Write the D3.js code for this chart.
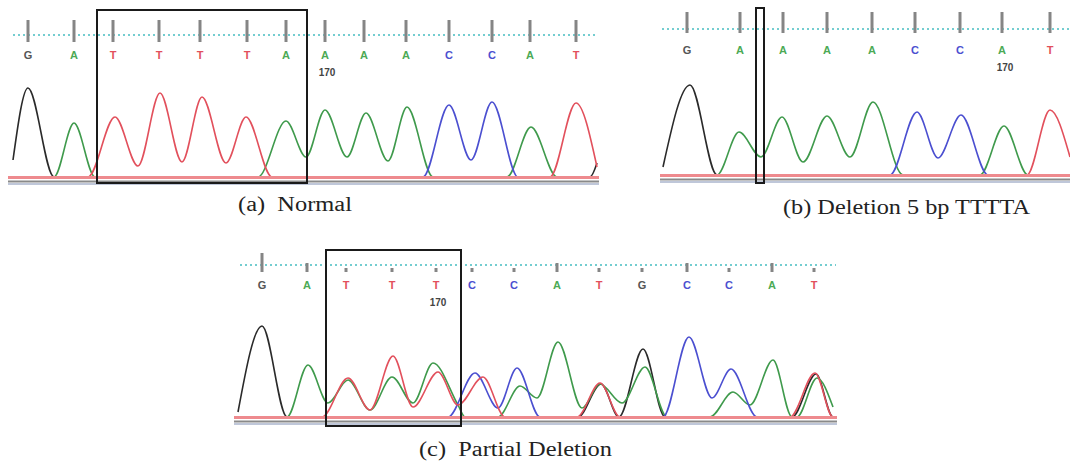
<!DOCTYPE html>
<html lang="en">
<head>
<meta charset="UTF-8">
<title>Sequencing chromatograms</title>
<script src="https://d3js.org/d3.v7.min.js"></script>
<style>
    body { margin: 0; background: #fff; }
    svg { display: block; }
    .base-letter { font-family: 'Liberation Sans', Arial, sans-serif; font-size: 11px; font-weight: bold; text-anchor: middle; }
    .pos-label { font-family: 'Liberation Sans', Arial, sans-serif; font-size: 10px; font-weight: bold; fill: #444; text-anchor: middle; }
    .caption { font-family: 'Liberation Serif', serif; font-size: 20px; fill: #222; }
    .trace { fill: none; stroke-width: 1.6px; stroke-linejoin: round; }
</style>
</head>
<body>
<svg width="1070" height="463"></svg>
<script>
    // ---- (a) Normal : scan position, signal intensity (0-100) ----
    const normalBases = ["G","A","T","T","T","T","A","A","A","A","C","C","A","T"];
    const normalBasePos = [18, 64, 103, 149, 190, 237, 276, 315, 354, 396, 439, 482, 520, 566];
    const normalQual = [22, 22, 22, 22, 22, 22, 22, 22, 22, 22, 22, 22, 22, 22];
    const normalG = [[3,17],[18,89],[44,0],[580,0],[587,14]];
    const normalA = [[0,0],[44,0],[64,54],[85,0],[248,0],[276,56],[296,20],[315,67],[337,20],[356,64],[378,16],[397,70],[423,0],[497,0],[521,50],[547,0],[587,0]];
    const normalC = [[0,0],[413,0],[439,72],[461,17],[482,75],[508,0],[587,0]];
    const normalT = [[0,0],[78,0],[105,60],[128,11],[150,84],[172,15],[192,80],[216,14],[236,60],[262,0],[540,0],[566,74],[587,10]];
    const normalBox = [87, 297];
    const normalMark = 7;

    // ---- (b) Deletion 5 bp TTTTA ----
    const delBases = ["G","A","A","A","A","C","C","A","T"];
    const delBasePos = [25, 78, 121, 165, 210, 253, 298, 340, 388];
    const delQual = [21, 21, 21, 21, 21, 21, 21, 21, 21];
    const delG = [[1,8],[28,90],[55,0],[408,0]];
    const delA = [[0,0],[55,0],[77,43],[99,18],[120,58],[141,13],[165,59],[188,18],[211,73],[241,0],[318,0],[342,49],[366,0],[408,0]];
    const delC = [[0,0],[228,0],[255,63],[276,17],[299,60],[326,0],[408,0]];
    const delT = [[0,0],[365,0],[388,65],[408,18]];
    const delBox = [94, 102];
    const delMark = 7;

    // ---- (c) Partial Deletion ----
    const partBases = ["G","A","T","T","T","C","C","A","T","G","C","C","A","T"];
    const partBasePos = [26, 71, 110, 156, 200, 236, 278, 321, 363, 406, 451, 493, 536, 578];
    const partQual = [19, 9, 4, 4, 4, 4, 4, 9, 4, 4, 9, 4, 9, 4];
    const partG = [[2,5],[26,91],[51,0],[342,0],[365,33],[383,0],[407,68],[429,0],[556,0],[580,43],[597,0],[600,0]];
    const partA = [[0,0],[51,0],[72,52],[92,14],[112,37],[134,7],[156,40],[177,14],[197,54],[222,12],[229,0],[262,0],[284,31],[301,19],[322,75],[346,9],[364,33],[386,14],[409,50],[431,0],[474,0],[497,25],[514,12],[537,57],[556,0],[561,0],[581,39],[597,10]];
    const partC = [[0,0],[212,0],[239,44],[262,9],[281,49],[304,0],[427,0],[453,80],[476,19],[495,48],[521,0],[600,0]];
    const partT = [[0,0],[86,0],[112,39],[134,7],[157,61],[177,10],[202,45],[222,12],[247,40],[269,0],[341,0],[364,34],[384,0],[554,0],[579,44],[597,0],[600,0]];
    const partBox = [90, 225];
    const partMark = 4;

    const baseColor = { A: "#3f9a4c", C: "#4b4fd0", G: "#2a2a2a", T: "#e2505c" };
    const letterColor = { A: "#4caa55", C: "#4b4fd0", G: "#555", T: "#e2505c" };

    const svg = d3.select("svg");

    function drawPanel(p) {
        const x = d3.scaleLinear().domain([0, p.span]).range([p.left, p.right]);
        const y = d3.scaleLinear().domain([0, 100]).range([p.zero, p.zero - 100]);
        const g = svg.append("g");

        // dotted guide line
        g.append("line").attr("x1", x(p.dotFrom)).attr("x2", x(p.span))
            .attr("y1", p.dotY).attr("y2", p.dotY)
            .attr("stroke", "#74cdd0").attr("stroke-width", 2)
            .attr("stroke-dasharray", "2,3");

        // quality bars
        g.selectAll(".qbar").data(p.pos).enter().append("rect")
            .attr("x", d => x(d) - 1.5)
            .attr("y", (d, i) => p.barBottom - p.qual[i])
            .attr("width", 3)
            .attr("height", (d, i) => p.qual[i])
            .attr("fill", "#858585");

        // base calls
        g.selectAll(".base-letter").data(p.bases).enter().append("text")
            .attr("class", "base-letter")
            .attr("x", (d, i) => x(p.pos[i]))
            .attr("y", p.letterY)
            .attr("fill", d => letterColor[d])
            .text(d => d);

        g.append("text").attr("class", "pos-label")
            .attr("x", x(p.pos[p.mark]) + p.markDx)
            .attr("y", p.letterY + 17)
            .text("170");

        // traces
        const line = d3.line().x(d => x(d[0])).y(d => y(d[1])).curve(d3.curveMonotoneX);
        ["G", "A", "C", "T"].forEach(ch => {
            g.append("path").attr("class", "trace")
                .attr("stroke", baseColor[ch])
                .attr("d", line(p.traces[ch]));
        });

        // baseline strip, laid over the flat parts of the traces
        g.append("line").attr("x1", x(0) - 2).attr("x2", x(p.span) + 1)
            .attr("y1", p.zero + 0.6).attr("y2", p.zero + 0.6)
            .attr("stroke", "#ee8a8e").attr("stroke-width", 3);
        g.append("line").attr("x1", x(0) - 2).attr("x2", x(p.span) + 1)
            .attr("y1", p.zero + 4.5).attr("y2", p.zero + 4.5)
            .attr("stroke", "#8a8a8a").attr("stroke-width", 2);
        g.append("line").attr("x1", x(0) - 2).attr("x2", x(p.span) + 1)
            .attr("y1", p.zero + 7).attr("y2", p.zero + 7)
            .attr("stroke", "#aab4cc").attr("stroke-width", 1.5);

        // highlight box
        g.append("rect")
            .attr("x", x(p.box[0])).attr("y", p.boxTop)
            .attr("width", x(p.box[1]) - x(p.box[0]))
            .attr("height", p.boxBottom - p.boxTop)
            .attr("fill", "none").attr("stroke", "#1a1a1a").attr("stroke-width", 2);

        // caption
        g.append("text").attr("class", "caption")
            .attr("x", p.capX).attr("y", p.capY)
            .attr("textLength", p.capW).attr("lengthAdjust", "spacingAndGlyphs")
            .attr("xml:space", "preserve")
            .text(p.caption);
    }

    drawPanel({
        left: 10, right: 598, span: 588, zero: 177, dotFrom: 3, dotY: 35,
        barBottom: 42, letterY: 59, markDx: 2,
        bases: normalBases, pos: normalBasePos, qual: normalQual, mark: normalMark,
        traces: { G: normalG, A: normalA, C: normalC, T: normalT },
        box: normalBox, boxTop: 10, boxBottom: 183,
        caption: "(a)  Normal", capX: 238, capY: 211, capW: 114
    });

    drawPanel({
        left: 662, right: 1070, span: 408, zero: 175, dotFrom: 0, dotY: 29,
        barBottom: 33, letterY: 54, markDx: 3,
        bases: delBases, pos: delBasePos, qual: delQual, mark: delMark,
        traces: { G: delG, A: delA, C: delC, T: delT },
        box: delBox, boxTop: 8, boxBottom: 183,
        caption: "(b) Deletion 5 bp TTTTA", capX: 783, capY: 214, capW: 247
    });

    drawPanel({
        left: 236, right: 836, span: 600, zero: 417, dotFrom: 4, dotY: 265,
        barBottom: 272, letterY: 289, markDx: 2,
        bases: partBases, pos: partBasePos, qual: partQual, mark: partMark,
        traces: { G: partG, A: partA, C: partC, T: partT },
        box: partBox, boxTop: 250, boxBottom: 426,
        caption: "(c)  Partial Deletion", capX: 419, capY: 456, capW: 193
    });
</script>
</body>
</html>
